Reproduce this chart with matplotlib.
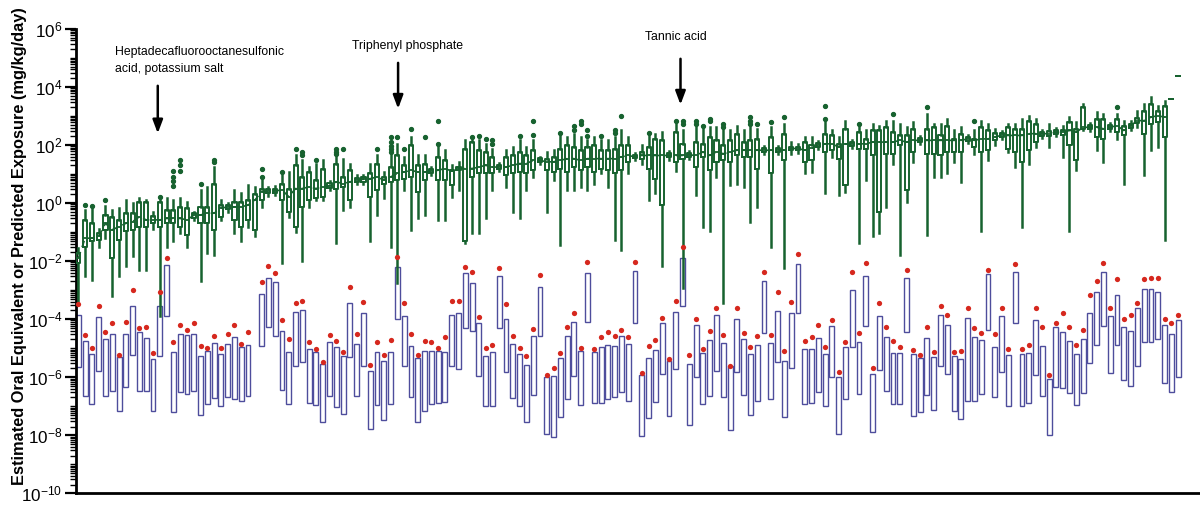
import numpy as np
import matplotlib.pyplot as plt
from matplotlib.ticker import FixedLocator, LogLocator, FuncFormatter, NullFormatter

# all values are log10(mg/kg/day); one entry per chemical
# predicted exposure range (blue boxes) and upper exposure (red dots)
expo_top = [
    -3.84, -4.76, -5.21, -3.94, -4.69, -4.52, -5.31, -4.52, -3.53, -4.45,
    -4.66, -5.38, -3.53, -2.12, -5.14, -4.52, -4.55, -4.52, -5.27, -5.10,
    -4.83, -5.21, -4.86, -4.62, -4.97, -4.90, None, -3.12, -2.57, -2.71,
    -4.42, -5.14, -3.77, -3.70, -5.03, -5.14, -5.55, -4.79, -4.97, -5.27,
    -3.46, -4.86, -3.80, -5.79, -5.14, -5.45, -5.14, -2.19, -3.90, -4.93,
    -5.34, -5.10, -5.10, -5.10, -5.14, -3.87, -3.80, -2.40, -2.74, -4.14,
    -5.27, -5.14, -2.50, -4.01, -4.86, -5.21, -5.58, -4.59, -2.88, -5.99,
    -5.96, -5.34, -4.59, -4.11, -5.10, -2.40, -5.14, -4.97, -4.90, -4.93,
    -4.59, -4.86, -2.33, -5.92, -5.34, -5.07, -4.14, -5.45, -3.77, -1.88,
    -5.55, -4.21, -5.17, -4.73, -3.84, -4.83, -5.62, -4.01, -4.69, -5.21,
    -4.90, -2.67, -4.83, -3.73, -5.45, -3.80, -2.09, -5.03, -5.03, -4.66,
    -5.21, -4.25, -5.99, -4.97, -3.01, -4.79, -2.53, -5.89, -3.90, -4.62,
    -5.17, -5.17, -2.57, -5.21, -5.34, -4.66, -5.31, -3.87, -4.21, -5.27,
    -5.38, -3.97, -4.62, -4.73, -2.43, -4.97, -3.90, -5.24, -2.36, -5.21,
    -5.17, -4.04, -4.93, -6.06, -4.28, -4.45, -4.76, -5.21, -4.69, -3.80,
    -3.05, -2.36, -3.90, -3.18, -4.28, -4.42, -3.60, -2.95, -2.95, -3.05,
    -4.21, -4.52, -4.04]
expo_bot = [
    -5.65, -6.64, -6.92, -5.79, -6.64, -6.47, -7.16, -6.34, -5.24, -6.47,
    -6.47, -7.16, -5.27, -3.90, -7.19, -6.51, -6.58, -6.47, -7.29, -6.92,
    -6.71, -6.99, -6.68, -6.75, -6.82, -6.64, None, -4.93, -4.28, -4.59,
    -6.44, -6.92, -5.62, -5.48, -6.88, -6.95, -7.53, -6.64, -7.02, -7.26,
    -5.31, -6.64, -5.62, -7.77, -6.95, -7.47, -6.92, -4.01, -5.62, -6.68,
    -7.53, -7.16, -6.92, -6.88, -6.85, -5.62, -5.72, -4.32, -4.42, -5.96,
    -6.99, -6.99, -4.32, -5.82, -6.71, -6.99, -7.53, -6.61, -4.59, -7.95,
    -8.05, -7.36, -6.75, -5.96, -6.95, -4.11, -6.88, -6.88, -6.75, -6.68,
    -6.51, -6.82, -4.14, -8.01, -7.40, -6.85, -5.89, -7.33, -5.72, -3.56,
    -7.64, -5.99, -6.92, -6.64, -5.79, -6.68, -7.81, -5.82, -6.61, -7.29,
    -6.82, -4.49, -6.75, -5.48, -7.36, -5.68, -3.80, -6.92, -6.88, -6.51,
    -6.99, -5.99, -7.95, -6.75, -4.97, -6.58, -4.25, -7.88, -5.75, -6.47,
    -6.92, -6.92, -4.45, -7.33, -7.19, -6.61, -7.12, -5.62, -5.89, -7.16,
    -7.43, -6.82, -6.82, -6.58, -4.38, -6.68, -5.82, -6.99, -4.14, -6.99,
    -6.88, -5.92, -6.64, -7.98, -6.34, -6.37, -6.54, -6.95, -6.54, -5.51,
    -4.90, -4.25, -5.86, -4.90, -6.10, -6.30, -5.62, -4.79, -4.79, -4.69,
    -6.20, -6.51, -5.99]
expo_max = [
    -3.49, -4.55, -5.00, -3.53, -4.45, -4.14, -5.24, -4.11, -2.98, -4.32,
    -4.28, -5.17, -3.08, -1.88, -4.79, -4.21, -4.38, -4.14, -4.93, -5.00,
    -4.59, -5.00, -4.52, -4.21, -4.86, -4.45, None, -2.71, -2.16, -2.40,
    -4.04, -4.69, -3.46, -3.39, -4.79, -5.03, -5.48, -4.55, -4.76, -5.14,
    -2.88, -4.52, -3.42, -5.58, -4.79, -5.24, -4.73, -1.85, -3.46, -4.52,
    -5.24, -4.76, -4.79, -5.00, -4.62, -3.36, -3.39, -2.19, -2.36, -3.94,
    -5.00, -4.90, -2.23, -3.49, -4.59, -5.00, -5.27, -4.35, -2.47, -5.92,
    -5.68, -5.17, -4.28, -3.80, -5.00, -2.02, -5.03, -4.62, -4.45, -4.59,
    -4.38, -4.62, -2.02, -5.86, -4.93, -4.73, -3.97, -5.38, -3.39, -1.51,
    -5.24, -4.01, -5.03, -4.42, -3.60, -4.55, -5.62, -3.60, -4.49, -4.97,
    -4.59, -2.36, -4.55, -3.08, -5.10, -3.42, -1.75, -4.76, -4.62, -4.21,
    -4.97, -4.04, -5.82, -4.79, -2.36, -4.49, -2.05, -5.68, -3.46, -4.28,
    -4.76, -4.97, -2.29, -5.07, -5.24, -4.28, -5.14, -3.53, -3.84, -5.14,
    -5.10, -3.63, -4.32, -4.49, -2.29, -4.52, -3.63, -5.03, -2.09, -5.03,
    -4.90, -3.60, -4.28, -5.92, -4.14, -3.80, -4.28, -4.90, -4.38, -3.18,
    -2.67, -2.05, -3.63, -2.60, -4.01, -3.87, -3.46, -2.60, -2.57, -2.57,
    -4.01, -4.14, -3.84]

# oral equivalent dose distributions (green box plots)
oe_med = [
    -1.90, -1.21, -1.21, -1.15, -0.70, -0.92, -0.81, -0.70, -0.64, -0.47,
    -0.58, -0.58, -0.58, -0.53, -0.53, -0.53, -0.58, -0.42, -0.41, -0.35,
    -0.35, -0.18, -0.13, -0.13, -0.13, -0.07, 0.10, 0.39, 0.40, 0.42,
    0.45, 0.22, 0.50, 0.50, 0.56, 0.50, 0.56, 0.60, 0.73, 0.67,
    0.73, 0.80, 0.82, 0.84, 0.90, 0.79, 0.90, 1.02, 1.07, 1.13,
    1.07, 1.07, 1.10, 1.13, 1.19, 1.10, 1.20, 1.19, 1.19, 1.24,
    1.30, 1.24, 1.24, 1.24, 1.30, 1.36, 1.36, 1.47, 1.47, 1.42,
    1.42, 1.47, 1.53, 1.53, 1.47, 1.53, 1.53, 1.53, 1.53, 1.53,
    1.59, 1.64, 1.59, 1.64, 1.64, 1.64, 1.64, 1.64, 1.64, 1.64,
    1.66, 1.64, 1.76, 1.64, 1.76, 1.70, 1.76, 1.82, 1.82, 1.82,
    1.82, 1.82, 1.82, 1.84, 1.82, 1.88, 1.88, 1.82, 1.88, 2.00,
    2.04, 2.04, 1.93, 2.04, 2.04, 2.04, 2.04, 2.10, 2.10, 2.10,
    2.10, 2.16, 2.10, 2.16, 2.16, 2.16, 2.16, 2.16, 2.16, 2.16,
    2.16, 2.21, 2.16, 2.21, 2.21, 2.28, 2.33, 2.33, 2.33, 2.33,
    2.39, 2.39, 2.39, 2.39, 2.44, 2.44, 2.50, 2.44, 2.61, 2.61,
    2.61, 2.56, 2.61, 2.67, 2.50, 2.67, 2.84, 2.84, 2.96, 3.01,
    2.96, 3.58, 4.38]
oe_q1 = [
    -2.07, -1.50, -1.32, -1.27, -0.92, -1.90, -1.27, -0.98, -0.92, -0.81,
    -0.81, -0.70, -0.81, -0.70, -0.70, -0.81, -1.10, -0.50, -0.70, -0.70,
    -0.92, -0.47, -0.20, -0.58, -0.81, -0.58, -0.92, 0.10, 0.33, 0.35,
    0.10, -0.30, -0.81, -0.13, 0.10, 0.16, 0.22, 0.52, 0.50, 0.56,
    0.10, 0.72, 0.74, 0.22, 0.45, 0.67, 0.73, 0.79, 0.84, 0.90,
    0.39, 0.79, 1.02, 0.79, 0.79, 0.62, 1.15, -1.32, 0.90, 1.02,
    1.02, 1.02, 1.17, 0.96, 1.02, 1.07, 1.02, 1.13, 1.40, 1.13,
    1.07, 1.19, 1.07, 1.24, 1.13, 1.24, 1.07, 1.19, 1.13, 1.02,
    1.13, 1.42, 1.54, 1.53, 1.19, 0.84, -0.07, 1.57, 1.42, 1.53,
    1.59, 1.24, 1.59, 1.13, 1.42, 1.47, 1.42, 1.64, 1.59, 1.59,
    1.19, 1.75, 1.02, 1.77, 1.47, 1.82, 1.82, 1.42, 1.47, 1.93,
    1.76, 1.82, 1.53, 0.62, 1.97, 1.87, 1.87, 1.64, -0.30, 1.70,
    1.70, 1.99, 0.45, 1.76, 2.09, 1.70, 1.70, 1.64, 1.76, 1.76,
    1.76, 2.14, 1.93, 1.76, 1.82, 2.16, 2.26, 1.87, 1.76, 1.42,
    1.82, 2.10, 2.32, 2.30, 2.37, 2.35, 1.99, 1.47, 2.56, 2.54,
    2.27, 2.21, 2.54, 2.44, 2.33, 2.60, 2.75, 2.39, 2.73, 2.79,
    2.27, 3.58, 4.38]
oe_q3 = [
    -1.72, -0.58, -0.70, -1.04, -0.41, -0.47, -0.58, -0.35, -0.35, 0.05,
    0.05, -0.45, 0.05, -0.24, -0.24, -0.13, -0.18, -0.35, -0.13, -0.13,
    0.67, -0.07, -0.06, 0.05, 0.05, 0.10, 0.30, 0.50, 0.47, 0.50,
    0.67, 0.50, 1.30, 0.90, 1.07, 0.79, 1.19, 0.68, 1.36, 0.90,
    1.13, 0.88, 0.90, 1.02, 1.36, 0.90, 1.24, 1.64, 1.30, 1.99,
    1.30, 1.36, 1.18, 1.59, 1.47, 1.13, 1.25, 1.87, 2.10, 1.82,
    1.76, 1.59, 1.31, 1.59, 1.64, 1.76, 1.64, 1.82, 1.54, 1.53,
    1.59, 1.87, 1.99, 1.93, 1.82, 1.93, 1.99, 1.82, 1.82, 1.87,
    1.99, 1.99, 1.65, 1.76, 1.93, 2.21, 2.16, 1.71, 2.44, 2.04,
    1.73, 2.10, 2.04, 2.27, 2.16, 1.99, 2.16, 2.39, 2.10, 2.16,
    2.21, 1.89, 2.27, 1.91, 2.39, 1.94, 1.94, 2.10, 1.99, 2.07,
    2.39, 2.33, 2.04, 2.56, 2.11, 2.44, 2.21, 2.50, 2.50, 2.61,
    2.44, 2.33, 2.33, 2.56, 2.23, 2.56, 2.61, 2.33, 2.67, 2.21,
    2.39, 2.28, 2.21, 2.61, 2.50, 2.40, 2.40, 2.61, 2.56, 2.56,
    2.84, 2.73, 2.46, 2.48, 2.51, 2.53, 2.79, 2.56, 3.30, 2.68,
    2.90, 2.90, 2.68, 2.90, 2.67, 2.74, 2.93, 3.18, 3.41, 3.18,
    3.36, 3.58, 4.38]
oe_lo = [
    -3.38, -2.52, -2.64, -1.50, -1.20, -3.20, -2.52, -2.18, -1.84, -2.29,
    -2.29, -0.90, -3.89, -1.50, -1.32, -1.04, -1.50, -0.60, -2.70, -1.72,
    -1.78, -0.58, -0.30, -1.04, -1.32, -0.81, -1.15, -0.13, 0.25, 0.27,
    -2.07, -0.47, -1.00, -2.01, -0.13, 0.10, 0.10, 0.45, -1.38, -0.24,
    -0.13, 0.65, 0.67, -1.32, -0.41, 0.16, -1.50, -2.75, 0.45, -0.92,
    -0.53, -0.41, 0.95, -0.58, -0.58, 0.22, 0.45, -1.38, -1.04, -1.04,
    -0.53, 0.45, 1.10, 0.56, -0.30, -0.53, 0.45, 0.90, 1.33, -0.30,
    0.79, -1.44, 0.45, 0.45, 0.56, 0.45, 0.67, 1.02, 0.56, -1.27,
    -1.61, 1.02, 1.48, 1.36, 0.10, 0.33, -2.18, 1.50, 1.10, -2.92,
    1.52, 0.27, -0.81, -0.98, 0.90, -3.44, 0.62, 0.67, 0.56, -0.64,
    -0.13, 1.68, -1.50, 1.70, -2.24, 1.70, 1.72, 1.02, 1.07, 1.86,
    0.33, 1.59, 0.27, 0.39, 1.90, -1.38, 0.79, -1.15, -1.04, -0.13,
    1.36, -1.78, 0.05, 1.42, 2.02, -1.10, 0.90, 0.90, 1.02, 1.42,
    0.73, 2.07, 1.70, -0.98, 1.47, 2.00, 2.19, 1.76, 1.24, -0.81,
    1.36, 1.93, 2.25, 1.93, 2.30, 1.59, -0.98, 1.13, 2.50, 2.47,
    1.82, 1.42, 2.47, 2.21, 0.67, 2.53, 2.61, 0.96, 1.82, 1.93,
    -1.27, 3.58, 4.38]
oe_hi = [
    -1.55, -0.24, -0.22, -0.90, -0.10, -0.24, -0.18, 0.10, 0.00, 0.16,
    0.10, -0.30, 0.10, 0.16, 0.10, 0.16, 0.05, -0.30, 0.45, 0.56,
    1.24, 0.10, 0.00, 0.45, 0.33, 0.62, 0.56, 0.79, 0.55, 0.58,
    0.96, 1.07, 1.64, 1.47, 1.24, 1.36, 1.47, 0.75, 1.64, 1.53,
    1.36, 0.95, 0.97, 1.36, 1.64, 1.07, 1.64, 2.04, 1.59, 2.27,
    1.64, 1.64, 1.25, 1.93, 1.82, 1.30, 1.42, 2.16, 2.16, 2.16,
    2.04, 1.87, 1.38, 1.82, 1.93, 2.16, 1.93, 2.16, 1.60, 1.76,
    1.82, 2.33, 2.27, 2.39, 2.27, 2.16, 2.27, 2.16, 2.16, 2.27,
    2.50, 2.27, 1.72, 1.99, 2.33, 2.39, 2.44, 1.78, 2.73, 2.50,
    1.80, 2.61, 2.55, 2.61, 2.61, 2.50, 2.50, 2.67, 2.50, 2.61,
    2.55, 1.96, 2.61, 1.98, 2.73, 2.10, 2.05, 2.27, 2.27, 2.14,
    2.79, 2.50, 2.27, 2.84, 2.18, 2.67, 2.50, 2.73, 2.67, 2.84,
    2.84, 2.73, 2.61, 2.79, 2.30, 3.07, 2.73, 2.73, 2.90, 2.50,
    2.61, 2.35, 2.50, 2.84, 2.73, 2.55, 2.47, 2.73, 2.73, 2.90,
    3.01, 2.90, 2.53, 2.73, 2.58, 2.67, 2.96, 2.79, 3.41, 2.75,
    3.13, 3.07, 2.75, 3.07, 2.84, 2.81, 3.18, 3.41, 3.64, 3.36,
    3.53, 3.58, 4.38]
flier_idx = [1, 2, 4, 12, 14, 14, 14, 14, 15, 15, 15, 18, 20, 20, 27, 27, 30, 32,
             33, 33, 35, 38, 38, 38, 39, 44, 46, 46, 46, 46, 46, 47, 48, 49, 51,
             53, 53, 58, 59, 60, 61, 61, 65, 67, 67, 71, 73, 73, 74, 74, 75, 75,
             77, 79, 79, 80, 84, 88, 89, 89, 91, 91, 92, 93, 93, 95, 95, 99, 99,
             99, 100, 102, 104, 110, 110, 115, 120, 125, 132, 153]
flier_val = [-0.05, -0.1, 0.1, 0.2, 1.1, 0.9, 0.75, 0.6, 1.47, 1.3, 1.1, 0.65,
             1.5, 1.4, 1.19, 0.9, 1.07, 1.87, 1.76, 1.64, 1.47, 1.87, 1.76, 1.7,
             1.87, 1.87, 2.27, 2.1, 1.95, 1.85, 1.75, 2.27, 1.87, 2.56, 2.27,
             2.84, 2.04, 2.27, 2.3, 2.21, 2.16, 2.04, 2.3, 2.84, 2.33, 2.4, 2.67,
             2.5, 2.84, 2.73, 2.5, 2.3, 2.3, 2.5, 2.4, 3.0, 2.4, 2.84, 2.73, 2.84,
             2.73, 2.84, 2.65, 2.84, 2.9, 2.73, 2.61, 2.73, 2.84, 2.96, 2.73,
             2.79, 2.96, 3.36, 2.9, 2.73, 3.07, 3.3, 2.84, 3.3]

# labelled chemicals: (text, arrow x, text x, text y, arrow tail, arrow tip), y in log10
callouts = [
    ('Heptadecafluorooctanesulfonic\nacid, potassium salt', 11.7, 5.4, 5.40, 4.04, 2.40),
    ('Triphenyl phosphate', 47.1, 40.3, 5.41, 4.83, 3.25),
    ('Tannic acid', 88.7, 83.4, 5.72, 4.97, 3.39),
]

GREEN = '#17622f'
BLUE = '#4e4d9c'
RED = '#d6281e'

plt.rcParams['font.family'] = ['Liberation Sans', 'DejaVu Sans']
plt.rcParams['mathtext.fontset'] = 'custom'
plt.rcParams['mathtext.rm'] = 'Liberation Sans'

fig = plt.figure(figsize=(12, 5.07), dpi=100)
ax = fig.add_axes([0.0633, 0.027, 0.936, 0.916])
ax.set_yscale('log')

n = len(oe_med)
pos = np.arange(n)

# exposure boxes
ex = [i for i in range(n) if expo_top[i] is not None]
lo = np.array([10.0 ** expo_bot[i] for i in ex])
hi = np.array([10.0 ** expo_top[i] for i in ex])
ax.bar(ex, hi - lo, bottom=lo, width=0.72, fill=False, edgecolor=BLUE,
       linewidth=1.0, zorder=2)
ax.plot(ex, [10.0 ** expo_max[i] for i in ex], 'o', color=RED, ms=3.8,
        mec='none', zorder=4)

# oral equivalent box plots
stats = []
for i in range(n):
    fl = [10.0 ** v for j, v in zip(flier_idx, flier_val) if j == i]
    stats.append(dict(med=10.0 ** oe_med[i], q1=10.0 ** oe_q1[i], q3=10.0 ** oe_q3[i],
                      whislo=10.0 ** oe_lo[i], whishi=10.0 ** oe_hi[i], fliers=fl))
ax.bxp(stats, positions=pos, widths=0.6, showcaps=False, manage_ticks=False,
       boxprops=dict(color=GREEN, linewidth=1.4),
       whiskerprops=dict(color=GREEN, linewidth=1.8),
       medianprops=dict(color=GREEN, linewidth=1.3),
       flierprops=dict(marker='o', markersize=2.8, markerfacecolor=GREEN,
                       markeredgecolor=GREEN),
       zorder=3)
med = 10.0 ** np.array(oe_med[:161])
ax.plot(pos[:161], med, color=GREEN, lw=1.2, dashes=(4, 3), zorder=3)

# callouts
for text, ax_x, tx, ty, a0, a1 in callouts:
    va = 'top' if '\n' in text else 'center'
    ax.text(tx, 10 ** ty, text, ha='left', va=va, fontsize=8.8, linespacing=1.5)
    ax.annotate('', xy=(ax_x, 10 ** a1), xytext=(ax_x, 10 ** a0),
                arrowprops=dict(arrowstyle='-|>,head_length=0.8,head_width=0.3',
                                color='black', lw=1.8, mutation_scale=10,
                                shrinkA=0, shrinkB=0))

ax.set_xlim(-0.35, 165.1)
ax.set_ylim(1e-10, 1e6)
ax.set_xticks([])
for s in ['top', 'right']:
    ax.spines[s].set_visible(False)
for s in ['left', 'bottom']:
    ax.spines[s].set_linewidth(2.0)

ax.yaxis.set_major_locator(FixedLocator([10.0 ** k for k in range(-10, 7, 2)]))
ax.yaxis.set_major_formatter(FuncFormatter(lambda v, p: r'$\mathdefault{10^{%d}}$' % round(np.log10(v))))
ax.yaxis.set_minor_locator(LogLocator(base=10, subs=np.arange(1, 10), numticks=100))
ax.yaxis.set_minor_formatter(NullFormatter())
ax.tick_params(axis='y', which='major', length=8, width=1.6, labelsize=12.3, pad=2)
ax.tick_params(axis='y', which='minor', length=4, width=1.0)

fig.text(0.016, 0.515, 'Estimated Oral Equivalent or Predicted Exposure (mg/kg/day)',
         rotation=90, ha='center', va='center', fontsize=11.8, fontweight='bold')

fig.savefig('out.png', dpi=100)
